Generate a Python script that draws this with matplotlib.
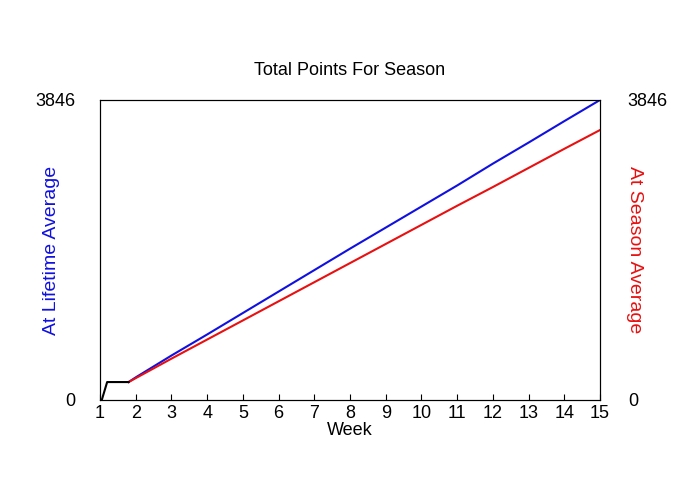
import matplotlib
matplotlib.use("Agg")
import matplotlib.pyplot as plt

plt.rcParams['font.family'] = ['Liberation Sans', 'DejaVu Sans']

start_weeks = [1.0, 1.05, 1.2, 1.5, 1.8]
start_vals = [0, 0, 230, 230, 230]
weeks = [1.8, 2, 3, 4, 5, 6, 7, 8, 9, 10, 11, 12, 13, 14, 15]
lifetime = [230, 290, 570, 840, 1115, 1390, 1665, 1940, 2210, 2480, 2750, 3030, 3300, 3575, 3846]
season = [230, 280, 530, 775, 1020, 1265, 1510, 1755, 2000, 2245, 2490, 2730, 2975, 3220, 3461]
ymax = 3846

fig = plt.figure(figsize=(7, 5), dpi=100)
ax = fig.add_axes([100/700, 100/500, 500/700, 300/500])
ax.plot(weeks, lifetime, color='#1010e0', lw=1.5)
ax.plot(weeks, season, color='#e81010', lw=1.5)
ax.plot(start_weeks, start_vals, color='black', lw=1.5)
ax.set_xlim(1, 15)
ax.set_ylim(0, ymax)
ax.set_xticks(range(1, 16))
ax.tick_params(axis='x', labelsize=13, direction='in', length=4)
ax.set_yticks([0, ymax])
ax.set_yticklabels(['0', str(ymax)], fontsize=13)
ax.tick_params(axis='y', length=0, pad=18)
ax.set_xlabel('Week', fontsize=13, labelpad=0)
ax.set_ylabel('At Lifetime Average', color='#1010e0', fontsize=14)
ax.yaxis.set_label_coords(-0.08, 0.5)
ax2 = ax.twinx()
ax2.set_ylim(0, ymax)
ax2.set_yticks([0, ymax])
ax2.set_yticklabels(['0', str(ymax)], fontsize=13)
ax2.tick_params(axis='y', length=0, pad=20)
ax2.set_ylabel('At Season Average', color='#e81010', fontsize=14, rotation=270)
ax2.yaxis.set_label_coords(1.085, 0.5)
ax.set_title('Total Points For Season', fontsize=13, pad=18)
fig.savefig('out.png', dpi=100)
